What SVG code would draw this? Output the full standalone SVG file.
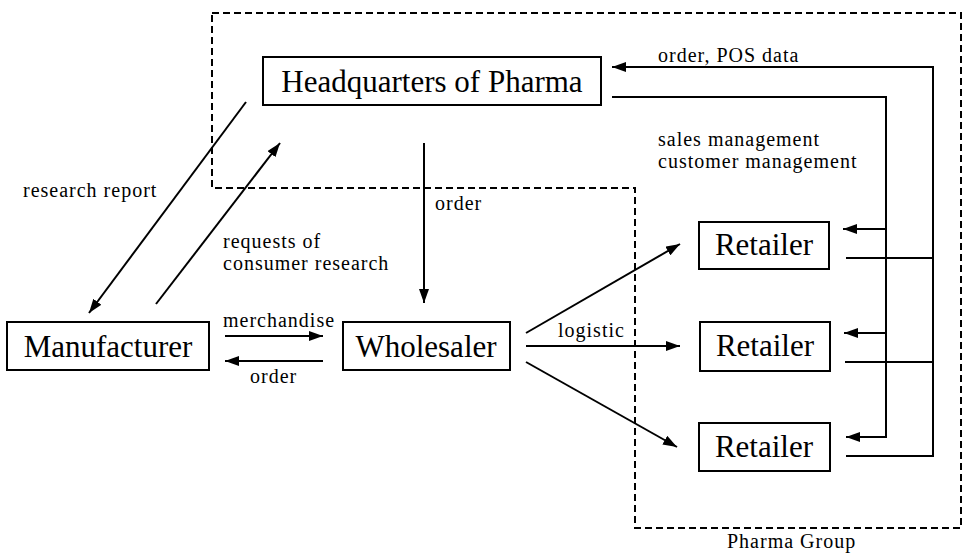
<svg xmlns="http://www.w3.org/2000/svg" width="965" height="556" viewBox="0 0 965 556">
  <style>
    .box { fill: #fff; stroke: #000; stroke-width: 2; }
    .big { font-family: 'Liberation Serif', 'DejaVu Serif', 'Times New Roman', serif; font-size: 31px; fill: #000; text-anchor: middle; }
    .lbl { font-family: 'Liberation Serif', 'DejaVu Serif', 'Times New Roman', serif; font-size: 20px; letter-spacing: 1px; fill: #000; }
    .ln { fill: none; stroke: #000; stroke-width: 2; }
    .arr { fill: none; stroke: #000; stroke-width: 2; marker-end: url(#head); }
    .group { fill: none; stroke: #000; stroke-width: 2; stroke-dasharray: 7 4; }
  </style>
  <defs>
    <marker id="head" viewBox="0 0 14 10" refX="14" refY="5" markerWidth="14" markerHeight="10" markerUnits="userSpaceOnUse" orient="auto">
      <path d="M0,0 L14,5 L0,10 Z" fill="#000"/>
    </marker>
  </defs>
  <rect width="965" height="556" fill="#fff"/>

  <!-- Pharma Group boundary -->
  <g id="pharma-group">
    <path class="group" d="M212,13 H961 V528 H635 V188 H212 Z"/>
    <text class="lbl" x="727" y="548">Pharma Group</text>
  </g>

  <!-- connectors -->
  <g id="connectors">
    <!-- HQ and Manufacturer -->
    <line class="arr" x1="246" y1="102" x2="89" y2="313"/>
    <line class="arr" x1="156" y1="304" x2="280" y2="143"/>
    <!-- HQ order to Wholesaler -->
    <line class="arr" x1="424" y1="143" x2="424" y2="303"/>
    <!-- Manufacturer and Wholesaler -->
    <line class="arr" x1="225" y1="336" x2="323" y2="336"/>
    <line class="arr" x1="323" y1="361" x2="225" y2="361"/>
    <!-- Wholesaler to Retailers -->
    <line class="arr" x1="526" y1="333" x2="680" y2="244"/>
    <line class="arr" x1="526" y1="346" x2="680" y2="346"/>
    <line class="arr" x1="526" y1="362" x2="677" y2="447"/>
    <!-- HQ management to Retailers -->
    <path class="ln" d="M612,97 H886 V437"/>
    <line class="arr" x1="886" y1="229" x2="843" y2="229"/>
    <line class="arr" x1="886" y1="333" x2="844" y2="333"/>
    <line class="arr" x1="887" y1="437" x2="846" y2="437"/>
    <!-- Retailers to HQ: order, POS data -->
    <path class="arr" d="M846,456 H933 V67 H612"/>
    <line class="ln" x1="846" y1="258" x2="933" y2="258"/>
    <line class="ln" x1="845" y1="362" x2="933" y2="362"/>
  </g>

  <!-- connector labels -->
  <g id="labels">
    <text class="lbl" x="23" y="197">research report</text>
    <text class="lbl" x="223" y="248">requests of</text>
    <text class="lbl" x="223" y="270">consumer research</text>
    <text class="lbl" x="435" y="210">order</text>
    <text class="lbl" x="223" y="327">merchandise</text>
    <text class="lbl" x="250" y="383">order</text>
    <text class="lbl" x="558" y="337">logistic</text>
    <text class="lbl" x="658" y="62">order, POS data</text>
    <text class="lbl" x="658" y="146">sales management</text>
    <text class="lbl" x="658" y="168">customer management</text>
  </g>

  <!-- nodes -->
  <g id="headquarters">
    <rect class="box" x="263" y="57" width="338" height="48"/>
    <text class="big" x="432" y="92">Headquarters of Pharma</text>
  </g>
  <g id="manufacturer">
    <rect class="box" x="7" y="322" width="202" height="48"/>
    <text class="big" x="108" y="357">Manufacturer</text>
  </g>
  <g id="wholesaler">
    <rect class="box" x="343" y="322" width="167" height="48"/>
    <text class="big" x="426" y="357">Wholesaler</text>
  </g>
  <g id="retailer-1">
    <rect class="box" x="699" y="222" width="130" height="47"/>
    <text class="big" x="764" y="255">Retailer</text>
  </g>
  <g id="retailer-2">
    <rect class="box" x="700" y="322" width="130" height="49"/>
    <text class="big" x="765" y="356">Retailer</text>
  </g>
  <g id="retailer-3">
    <rect class="box" x="699" y="423" width="131" height="48"/>
    <text class="big" x="764" y="457">Retailer</text>
  </g>
</svg>
